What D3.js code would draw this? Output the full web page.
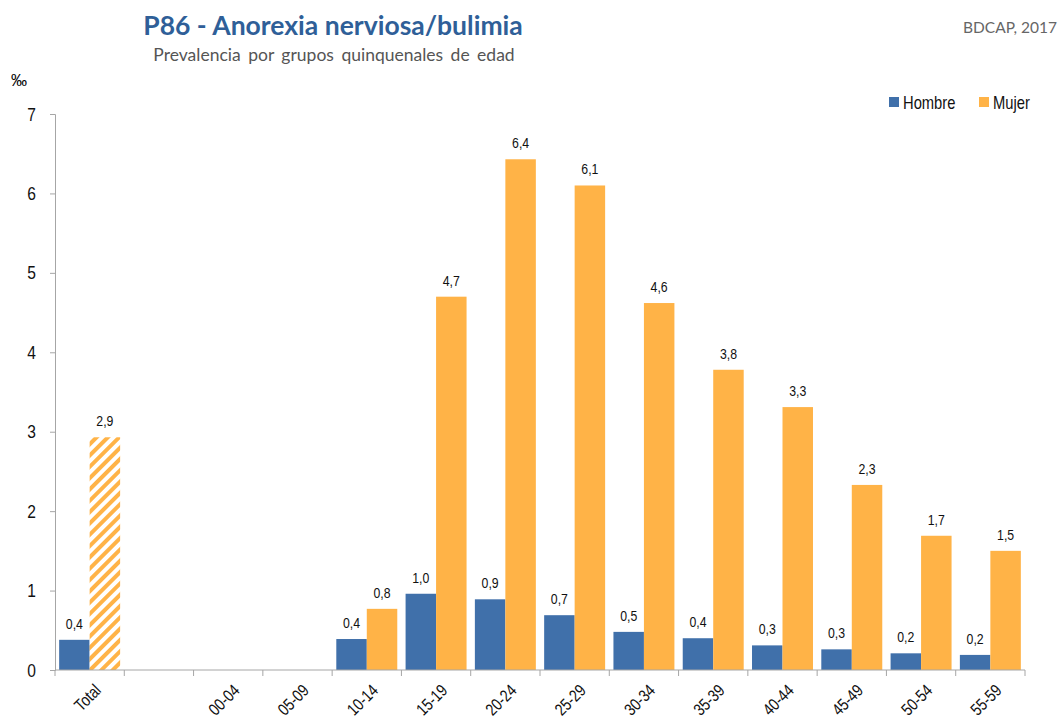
<!DOCTYPE html>
<html>
<head>
<meta charset="utf-8">
<script src="https://cdn.jsdelivr.net/npm/d3@7"></script>
<style>
  body { margin: 0; background: #fff; }
  text.narrow, .narrow text { font-family: "Liberation Sans", Arial, sans-serif; }
</style>
</head>
<body>
<div id="chart"></div>
<script>
// data
const categories = ["Total", "", "00-04", "05-09", "10-14", "15-19", "20-24", "25-29",
  "30-34", "35-39", "40-44", "45-49", "50-54", "55-59"];
const hombre = [0.38, null, null, null, 0.39, 0.96, 0.89, 0.69, 0.48, 0.40, 0.31, 0.26, 0.21, 0.19];
const mujer = [2.93, null, null, null, 0.77, 4.70, 6.43, 6.10, 4.62, 3.78, 3.31, 2.33, 1.69, 1.50];
const yTicks = [0, 1, 2, 3, 4, 5, 6, 7];
const seriesNames = ["Hombre", "Mujer"];

const colHombre = "#4070aa";
const colMujer = "#ffb347";
const NARROW = 0.82; // squeeze Liberation Sans to look like Arial Narrow

const W = 1060, H = 720;
const margin = { top: 114, right: 35, bottom: 50, left: 55 };
const width = W - margin.left - margin.right;
const height = H - margin.top - margin.bottom;

const svg = d3.select("#chart").append("svg")
  .attr("width", W).attr("height", H);

// hatch for the Total / Mujer bar
const defs = svg.append("defs");
const pat = defs.append("pattern")
  .attr("id", "hatch")
  .attr("patternUnits", "userSpaceOnUse")
  .attr("width", 8).attr("height", 8)
  .attr("patternTransform", "rotate(45)");
pat.append("rect").attr("width", 8).attr("height", 8).attr("fill", "#fff");
pat.append("rect").attr("x", 0).attr("width", 4).attr("height", 8).attr("fill", colMujer);

// titles
svg.append("text")
  .attr("x", 333).attr("y", 35)
  .attr("text-anchor", "middle")
  .style("font-family", "Lato, 'Open Sans', sans-serif")
  .style("font-size", "26.5px").style("font-weight", "bold")
  .style("fill", "#2f5f98")
  .text("P86 - Anorexia nerviosa/bulimia");

svg.append("text")
  .attr("x", 334).attr("y", 61)
  .attr("text-anchor", "middle")
  .style("font-family", "Lato, 'Open Sans', sans-serif")
  .style("font-size", "17.5px")
  .style("word-spacing", "3px")
  .style("fill", "#555")
  .text("Prevalencia por grupos quinquenales de edad");

svg.append("text")
  .attr("x", 1057).attr("y", 33)
  .attr("text-anchor", "end")
  .style("font-family", "Lato, 'Open Sans', sans-serif")
  .style("font-size", "15.5px")
  .style("fill", "#666")
  .text("BDCAP, 2017");

svg.append("text")
  .attr("x", 11).attr("y", 86)
  .style("font-family", "Liberation Sans, sans-serif")
  .style("font-size", "16px")
  .text("‰");

const g = svg.append("g")
  .attr("transform", "translate(" + margin.left + "," + margin.top + ")");

const x = d3.scaleBand().domain(d3.range(categories.length)).range([0, width]).padding(0);
const y = d3.scaleLinear().domain([0, 7]).range([height, 0]);

const pad = x.bandwidth() * 0.06;
const barW = (x.bandwidth() - 2 * pad) / 2;

// y axis
const yAxis = d3.axisLeft(y).tickValues(yTicks).tickSize(5).tickPadding(0).tickFormat(d3.format("d"));
g.append("g")
  .attr("class", "narrow")
  .call(yAxis)
  .call(s => s.select(".domain").attr("stroke", "#a6a6a6"))
  .call(s => s.selectAll("line").attr("stroke", "#a6a6a6"))
  .call(s => s.selectAll("text")
    .attr("x", null)
    .attr("transform", "translate(-19,0) scale(" + NARROW + ",1)")
    .style("font-size", "19px").style("fill", "#111")
    .attr("font-family", null));

// bars
const fmt = v => v.toFixed(1).replace(".", ",");

const rows = categories.map((c, i) => ({ i, h: hombre[i], m: mujer[i] }));

g.selectAll(".bh").data(rows.filter(d => d.h != null)).enter()
  .append("rect")
  .attr("x", d => x(d.i) + pad)
  .attr("width", barW)
  .attr("y", d => y(d.h))
  .attr("height", d => height - y(d.h))
  .attr("fill", colHombre);

g.selectAll(".bm").data(rows.filter(d => d.m != null)).enter()
  .append("rect")
  .attr("x", d => x(d.i) + pad + barW)
  .attr("width", barW)
  .attr("y", d => y(d.m))
  .attr("height", d => height - y(d.m))
  .attr("fill", d => d.i === 0 ? "url(#hatch)" : colMujer);

// value labels
g.selectAll(".lh").data(rows.filter(d => d.h != null)).enter()
  .append("text")
  .attr("class", "narrow")
  .attr("transform", d => "translate(" + (x(d.i) + pad + barW / 2) + "," + (y(d.h) - 11) + ") scale(" + NARROW + ",1)")
  .attr("text-anchor", "middle")
  .style("font-size", "15px").style("fill", "#111")
  .text(d => fmt(d.h));

g.selectAll(".lm").data(rows.filter(d => d.m != null)).enter()
  .append("text")
  .attr("class", "narrow")
  .attr("transform", d => "translate(" + (x(d.i) + pad + barW * 1.5) + "," + (y(d.m) - 11) + ") scale(" + NARROW + ",1)")
  .attr("text-anchor", "middle")
  .style("font-size", "15px").style("fill", "#111")
  .text(d => fmt(d.m));

// x axis
const xg = g.append("g").attr("transform", "translate(0," + height + ")");
xg.append("line")
  .attr("x1", 0).attr("x2", width)
  .attr("stroke", "#a6a6a6");
xg.selectAll(".tk").data(d3.range(categories.length + 1)).enter()
  .append("line")
  .attr("x1", d => d * x.step()).attr("x2", d => d * x.step())
  .attr("y1", 0).attr("y2", 6)
  .attr("stroke", "#a6a6a6");
xg.selectAll(".xl").data(rows).enter()
  .append("text")
  .attr("class", "narrow")
  .attr("transform", d => "translate(" + (x(d.i) + x.bandwidth() / 2 + 4) + ",13) rotate(-45) scale(" + NARROW + ",1)")
  .attr("text-anchor", "end")
  .attr("dy", "0.7em")
  .style("font-size", "17px").style("fill", "#111")
  .text(d => categories[d.i]);

// legend
const legend = svg.append("g").attr("class", "narrow")
  .attr("transform", "translate(889,97)");
const legX = [0, 90];
const legCol = [colHombre, colMujer];
seriesNames.forEach((name, i) => {
  legend.append("rect")
    .attr("x", legX[i]).attr("y", 0)
    .attr("width", 10).attr("height", 10)
    .attr("fill", legCol[i]);
  legend.append("text")
    .attr("transform", "translate(" + (legX[i] + 14) + ",12) scale(" + NARROW + ",1)")
    .style("font-size", "18px").style("fill", "#111")
    .text(name);
});
</script>
</body>
</html>
